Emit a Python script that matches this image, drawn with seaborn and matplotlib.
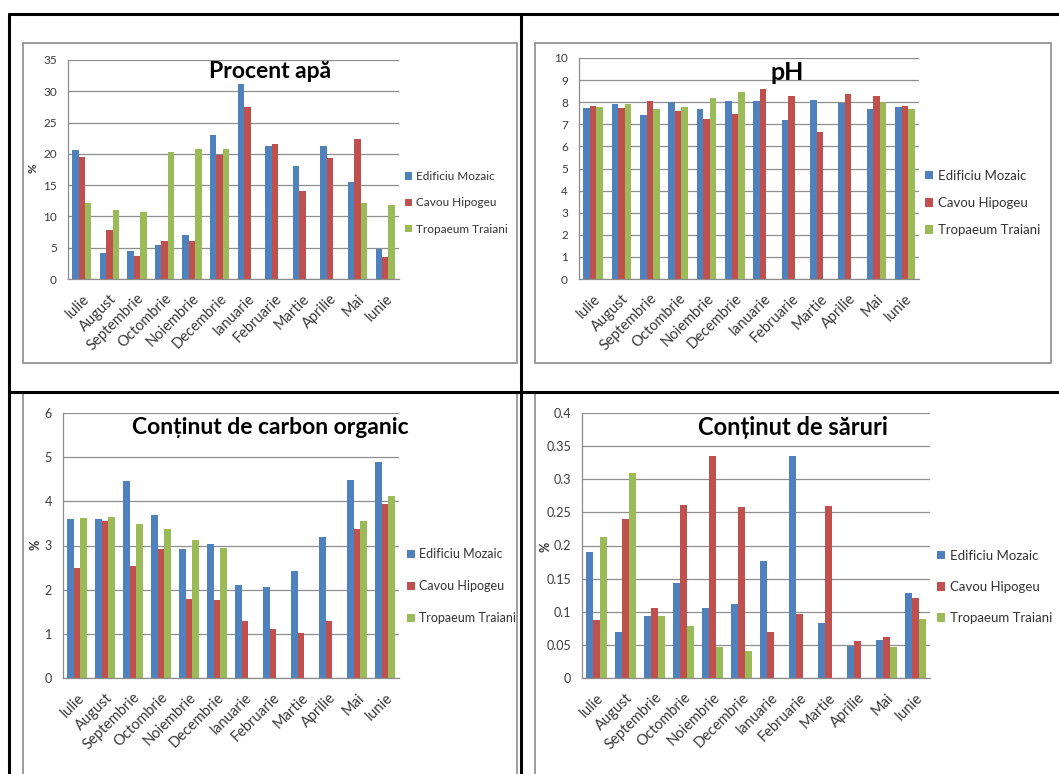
import numpy as np
import pandas as pd
import matplotlib
matplotlib.use("Agg")
import matplotlib.pyplot as plt
import seaborn as sns
from matplotlib.patches import Patch, Rectangle
from matplotlib.lines import Line2D

# ---- data -------------------------------------------------------------
luni = ["Iulie", "August", "Septembrie", "Octombrie", "Noiembrie", "Decembrie",
        "Ianuarie", "Februarie", "Martie", "Aprilie", "Mai", "Iunie"]
situri = ["Edificiu Mozaic", "Cavou Hipogeu", "Tropaeum Traiani"]
nan = np.nan

apa_mozaic = [20.6, 4.2, 4.4, 5.5, 7.1, 23.0, 31.1, 21.2, 18.0, 21.2, 15.5, 4.8]
apa_hipogeu = [19.5, 7.8, 3.7, 6.1, 6.1, 19.8, 27.5, 21.6, 14.1, 19.3, 22.4, 3.5]
apa_tropaeum = [12.1, 11.0, 10.7, 20.3, 20.7, 20.8, nan, nan, nan, nan, 12.1, 11.9]

ph_mozaic = [7.75, 7.9, 7.4, 8.0, 7.7, 8.05, 8.05, 7.2, 8.1, 7.95, 7.7, 7.8]
ph_hipogeu = [7.85, 7.75, 8.05, 7.6, 7.25, 7.45, 8.6, 8.3, 6.65, 8.35, 8.3, 7.85]
ph_tropaeum = [7.8, 7.9, 7.7, 7.8, 8.2, 8.45, nan, nan, nan, nan, 8.0, 7.7]

carbon_mozaic = [3.6, 3.6, 4.47, 3.68, 2.92, 3.03, 2.1, 2.07, 2.43, 3.2, 4.48, 4.9]
carbon_hipogeu = [2.5, 3.55, 2.53, 2.92, 1.8, 1.76, 1.3, 1.1, 1.01, 1.3, 3.38, 3.95]
carbon_tropaeum = [3.62, 3.65, 3.48, 3.37, 3.12, 2.95, nan, nan, nan, nan, 3.55, 4.12]

saruri_mozaic = [0.19, 0.07, 0.094, 0.144, 0.106, 0.112, 0.177, 0.335, 0.083, 0.049, 0.058, 0.128]
saruri_hipogeu = [0.088, 0.24, 0.106, 0.261, 0.335, 0.258, 0.07, 0.096, 0.26, 0.056, 0.062, 0.121]
saruri_tropaeum = [0.213, 0.31, 0.094, 0.079, 0.047, 0.041, nan, nan, nan, nan, 0.047, 0.089]

culori = ["#4F81BD", "#C0504D", "#9BBB59"]

# ---- figure -----------------------------------------------------------
W, H = 1059, 774
sns.set_style("white")
plt.rcParams["font.family"] = ["Lato", "DejaVu Sans"]
fig = plt.figure(figsize=(W / 100, H / 100), dpi=100)
fig.patch.set_facecolor("white")


def px_axes(left, top, right, bottom):
    return fig.add_axes([left / W, 1 - bottom / H, (right - left) / W, (bottom - top) / H])


def fig_line(x0, y0, x1, y1, color="black", lw=2.2):
    fig.add_artist(Line2D([x0 / W, x1 / W], [1 - y0 / H, 1 - y1 / H],
                          color=color, lw=lw, transform=fig.transFigure))


def panel(box, serii, ymax, ystep, titlu, titlu_xy, titlu_fs, ytick_fs, xtick_fs,
          leg_xy, leg_fs, leg_spacing, ylabel_xy=None):
    ax = px_axes(*box)
    df = pd.DataFrame({
        "luna": np.tile(luni, 3),
        "sit": np.repeat(situri, len(luni)),
        "val": np.concatenate([np.asarray(s, float) for s in serii]),
    })
    sns.barplot(data=df, x="luna", y="val", hue="sit", order=luni,
                hue_order=situri, palette=culori, saturation=1, width=0.7,
                errorbar=None, linewidth=0, ax=ax, legend=False)
    ax.set_xlim(-0.5, len(luni) - 0.5)
    ax.set_ylim(0, ymax)
    ticks = np.round(np.arange(0, ymax + ystep / 2, ystep), 3)
    ax.set_yticks(ticks)
    ax.set_yticklabels([f"{t:g}" for t in ticks], fontsize=ytick_fs, color="#3a3a3a")
    ax.grid(axis="y", color="#8f8f8f", lw=0.9)
    ax.grid(axis="x", visible=False)
    ax.set_axisbelow(True)
    ax.set_xlabel("")
    ax.set_ylabel("")
    ax.set_xticks(range(len(luni)))
    ax.set_xticklabels(luni, rotation=45, ha="right", rotation_mode="anchor",
                       fontsize=xtick_fs, color="#3a3a3a")
    ax.set_xticks(np.arange(-0.5, len(luni)), minor=True)
    ax.tick_params(axis="x", which="major", length=0, pad=9)
    ax.tick_params(axis="x", which="minor", length=5, color="#8c8c8c", width=0.9)
    ax.tick_params(axis="y", length=5, color="#8c8c8c", width=0.9, pad=3)
    for s in ["top", "right"]:
        ax.spines[s].set_visible(False)
    for s in ["left", "bottom"]:
        ax.spines[s].set_color("#8c8c8c")
        ax.spines[s].set_linewidth(0.9)

    handles = [Patch(facecolor=c, edgecolor="none") for c in culori]
    ax.legend(handles, situri, loc="center left",
              bbox_to_anchor=(leg_xy[0] / W, 1 - leg_xy[1] / H),
              bbox_transform=fig.transFigure, frameon=False, fontsize=leg_fs,
              handlelength=0.6, handleheight=0.6, handletextpad=0.35,
              labelspacing=leg_spacing, borderaxespad=0, borderpad=0,
              labelcolor="#333333")

    fig.text(titlu_xy[0] / W, 1 - titlu_xy[1] / H, titlu, ha="center", va="center",
             fontsize=titlu_fs, fontweight="bold", color="black")
    if ylabel_xy is not None:
        fig.text(ylabel_xy[0] / W, 1 - ylabel_xy[1] / H, "%", rotation=90,
                 ha="center", va="center", fontsize=ytick_fs, fontweight="bold",
                 color="#333333")
    return ax


panel((68, 60, 399, 279), [apa_mozaic, apa_hipogeu, apa_tropaeum], 35, 5,
      "Procent apă", (270, 72), 16.5, 8.5, 10.5, (405, 203), 8.5, 1.3, ylabel_xy=(33, 168))
panel((579, 58, 919, 279), [ph_mozaic, ph_hipogeu, ph_tropaeum], 10, 1,
      "pH", (787, 72), 18, 8.5, 10.5, (925, 203), 9.5, 1.15)
panel((63, 413, 399, 678), [carbon_mozaic, carbon_hipogeu, carbon_tropaeum], 6, 1,
      "Conținut de carbon organic", (270, 428), 16.5, 9, 10.5, (407, 586), 9, 1.6,
      ylabel_xy=(35, 545))
panel((582, 413, 930, 678), [saruri_mozaic, saruri_hipogeu, saruri_tropaeum], 0.4, 0.05,
      "Conținut de săruri", (793, 428), 17, 9, 10.5, (937, 587), 9.5, 1.45,
      ylabel_xy=(545, 547))

# ---- chart frames -----------------------------------------------------
for (l, t, r, b) in [(23, 43, 517, 363), (535, 43, 1051, 363)]:
    fig.add_artist(Rectangle((l / W, 1 - b / H), (r - l) / W, (b - t) / H,
                             transform=fig.transFigure, fill=False,
                             edgecolor="#8c8c8c", lw=1.2))
fig_line(23, 394, 23, 774, color="#8c8c8c", lw=1.2)
fig_line(517, 394, 517, 774, color="#8c8c8c", lw=1.2)
fig_line(535, 394, 535, 774, color="#8c8c8c", lw=1.2)

# ---- table grid -------------------------------------------------------
fig_line(9, 14, 1059, 14)
fig_line(9, 14, 9, 774)
fig_line(521, 14, 521, 774)
fig_line(9, 392, 1059, 392)

fig.savefig("out.png", dpi=100, facecolor="white")
